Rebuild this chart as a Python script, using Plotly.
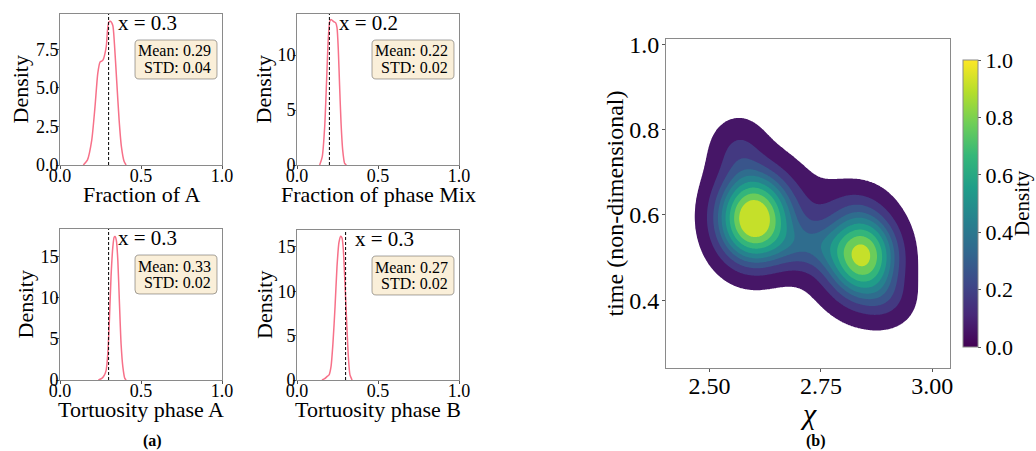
import numpy as np
import plotly.graph_objects as go
import plotly.colors as pc

W, H = 1036, 451
FONT = "Liberation Serif"

# ---------------- 1D KDE panels ----------------
fracA_x = [0.144, 0.169, 0.196, 0.216, 0.233, 0.247, 0.264, 0.285, 0.293, 0.301, 0.311, 0.326, 0.336, 0.351, 0.365, 0.379, 0.396, 0.408]
fracA_y = [0.0, 0.32, 1.62, 3.77, 5.93, 6.68, 6.79, 7.65, 8.73, 9.27, 9.33, 9.05, 7.87, 5.28, 2.91, 1.19, 0.22, 0.0]

fracMix_x = [0.140, 0.156, 0.171, 0.183, 0.193, 0.202, 0.210, 0.226, 0.239, 0.247, 0.255, 0.263, 0.272, 0.282, 0.294, 0.305]
fracMix_y = [0.0, 0.76, 3.5, 7.8, 11.5, 13.06, 13.24, 13.06, 12.94, 12.5, 10.5, 7.2, 3.8, 1.38, 0.15, 0.0]

tortA_x = [0.237, 0.258, 0.274, 0.285, 0.295, 0.305, 0.315, 0.326, 0.334, 0.340, 0.348, 0.357, 0.367, 0.377, 0.388, 0.400, 0.408]
tortA_y = [0.0, 0.2, 0.6, 1.2, 3.2, 7.3, 12.5, 16.1, 17.3, 17.4, 16.9, 14.5, 9.3, 4.4, 1.6, 0.2, 0.0]

tortB_x = [0.154, 0.171, 0.185, 0.198, 0.210, 0.222, 0.235, 0.247, 0.259, 0.270, 0.278, 0.286, 0.296, 0.307, 0.317, 0.327, 0.340]
tortB_y = [0.0, 0.15, 0.38, 0.57, 1.5, 4.15, 8.3, 12.8, 15.5, 16.2, 16.0, 14.7, 10.9, 6.4, 2.64, 0.57, 0.0]

panel_titles = ["Fraction of A", "Fraction of phase Mix", "Tortuosity phase A", "Tortuosity phase B"]
ref_x = [0.3, 0.2, 0.3, 0.3]
means = [0.29, 0.22, 0.33, 0.27]
stds = [0.04, 0.02, 0.02, 0.02]
y_max = [9.8, 13.75, 18.3, 16.9]
ytick_vals = [[0, 2.5, 5, 7.5], [0, 5, 10], [0, 5, 10, 15], [0, 5, 10, 15]]
ytick_text = [["0.0", "2.5", "5.0", "7.5"], ["0", "5", "10"], ["0", "5", "10", "15"], ["0", "5", "10", "15"]]
xtick_vals = [0, 0.5, 1.0]
xtick_text = ["0.0", "0.5", "1.0"]

# ---------------- 2D KDE (panel b): blob components ----------------
blob_chi = [2.597, 2.845, 2.730, 2.720, 2.565, 2.900, 2.820]
blob_time = [0.590, 0.505, 0.560, 0.525, 0.755, 0.400, 0.630]
blob_sx = [0.055, 0.052, 0.120, 0.060, 0.040, 0.040, 0.050]
blob_sy = [0.070, 0.068, 0.120, 0.040, 0.050, 0.040, 0.040]
blob_rho = [0.0, 0.0, -0.65, 0.0, 0.0, 0.0, 0.0]
blob_w = [1.0, 0.85, 0.14, 0.18, 0.14, 0.10, 0.07]
iso_props = list(np.linspace(0.05, 1.0, 10))   # seaborn-style iso-proportion levels

cbar_vals = [0.0, 0.2, 0.4, 0.6, 0.8, 1.0]
cbar_text = ["0.0", "0.2", "0.4", "0.6", "0.8", "1.0"]
chi_ticks = [2.50, 2.75, 3.00]
chi_text = ["2.50", "2.75", "3.00"]
time_ticks = [0.4, 0.6, 0.8, 1.0]
time_text = ["0.4", "0.6", "0.8", "1.0"]

# ---------------- layout geometry (pixels) ----------------
def px(x):
    return x / W

def py(y):
    return 1 - y / H

panel_boxes = [(60, 14, 222, 165), (297, 14, 459, 165), (60, 229, 222, 380), (297, 230, 459, 380)]
right_box = (666, 39, 950, 368)

fig = go.Figure()
curves = [(fracA_x, fracA_y), (fracMix_x, fracMix_y), (tortA_x, tortA_y), (tortB_x, tortB_y)]
PINK = "#f77189"
GRAY = "#8a8a8a"
layout_axes = {}
shapes = []
annotations = []

def rrect(x0, y0, x1, y1, r):
    def P(x, y):
        return f"{px(x):.5f},{py(y):.5f}"
    return (f"M {P(x0+r, y0)} L {P(x1-r, y0)} Q {P(x1, y0)} {P(x1, y0+r)} "
            f"L {P(x1, y1-r)} Q {P(x1, y1)} {P(x1-r, y1)} L {P(x0+r, y1)} "
            f"Q {P(x0, y1)} {P(x0, y1-r)} L {P(x0, y0+r)} Q {P(x0, y0)} {P(x0+r, y0)} Z")

def note(x, y, text, size, angle=0, xanchor="center"):
    return dict(xref="paper", yref="paper", x=px(x), y=py(y), xanchor=xanchor, yanchor="middle",
                text=text, textangle=angle, showarrow=False, font=dict(family=FONT, size=size, color="black"))

ytitle_x = [20, 263, 25, 264]
for i, (box, (cx, cy)) in enumerate(zip(panel_boxes, curves)):
    n = i + 1
    xa = "x" if n == 1 else f"x{n}"
    ya = "y" if n == 1 else f"y{n}"
    l, t, r, b = box
    fig.add_trace(go.Scatter(x=cx, y=cy, mode="lines", line=dict(color=PINK, width=1.5, shape="spline", smoothing=0.6),
                             xaxis=xa, yaxis=ya, showlegend=False, hoverinfo="skip"))
    common = dict(showline=True, mirror=True, linecolor=GRAY, linewidth=1, showgrid=False, zeroline=False,
                  automargin=False, ticks="outside", ticklen=3, tickcolor="#555",
                  tickfont=dict(family=FONT, size=18, color="black"))
    layout_axes[f"xaxis{n if n > 1 else ''}"] = dict(domain=[px(l), px(r)], range=[0, 1], anchor=ya,
                                                   tickvals=xtick_vals, ticktext=xtick_text,
                                                   ticklabelstandoff=-9, **common)
    layout_axes[f"yaxis{n if n > 1 else ''}"] = dict(domain=[py(b), py(t)], range=[0, y_max[i]], anchor=xa,
                                                   tickvals=ytick_vals[i], ticktext=ytick_text[i],
                                                   ticklabelstandoff=-6, **common)
    shapes.append(dict(type="line", xref=xa, yref=f"{ya} domain", x0=ref_x[i], x1=ref_x[i], y0=0, y1=1,
                       line=dict(color="black", width=1, dash="3px,2px")))
    annotations.append(dict(xref=xa, yref=f"{ya} domain", x=ref_x[i] + 0.045, y=0.94, xanchor="left", yanchor="middle",
                            text=f"x = {ref_x[i]}", showarrow=False, font=dict(family=FONT, size=21, color="black")))
    # stats box
    shapes.append(dict(type="path", xref="paper", yref="paper", path=rrect(l + 75, t + 26, l + 157, t + 65, 4),
                       fillcolor="#faefd9", line=dict(color="rgba(0,0,0,0.35)", width=1), layer="above"))
    annotations.append(note(l + 153, t + 37, f"Mean: {means[i]:.2f}", 16, xanchor="right"))
    annotations.append(note(l + 153, t + 53, f"STD: {stds[i]:.2f}", 16, xanchor="right"))
    # axis titles
    annotations.append(note((l + r) / 2, b + 29, panel_titles[i], 22))
    annotations.append(note(ytitle_x[i], (t + b) / 2, "Density", 22, angle=-90))

# ---------------- 2D density ----------------
chi_g = np.linspace(2.40, 3.04, 321)
time_g = np.linspace(0.24, 1.012, 321)
CX, TY = np.meshgrid(chi_g, time_g)
Z = np.zeros_like(CX)
for mx, my, sx, sy, rho, w in zip(blob_chi, blob_time, blob_sx, blob_sy, blob_rho, blob_w):
    dx = (CX - mx) / sx
    dy = (TY - my) / sy
    q = (dx * dx - 2 * rho * dx * dy + dy * dy) / (1 - rho * rho)
    Z += w * np.exp(-0.5 * q)
Z /= Z.max()

vals = np.sort(Z.ravel())[::-1]
cum = np.cumsum(vals) / vals.sum()
levels = [float(vals[min(np.searchsorted(cum, 1 - p), len(vals) - 1)]) for p in iso_props]
levels = sorted(levels)
nlev = len(levels)
Zi = np.interp(Z, [0.0] + levels, list(range(-1, nlev)))

viridis = pc.sequential.Viridis
band_pos = [((levels[k - 1] + levels[k]) / 2 - levels[0]) / (levels[-1] - levels[0]) for k in range(1, nlev)]
band_cols = pc.sample_colorscale(viridis, band_pos)
nb = nlev - 1
cscale = [[0.0, "white"]] + [[k / nb, c] for k, c in enumerate(band_cols, start=1)]

fig.add_trace(go.Contour(x=chi_g, y=time_g, z=Zi, xaxis="x5", yaxis="y5",
                         contours=dict(start=0, end=nlev - 2, size=1, coloring="fill", showlines=False),
                         colorscale=cscale, showscale=False, line=dict(width=0), hoverinfo="skip"))

cbar = dict(x=px(963), xanchor="left", y=py(60), yanchor="top",
            lenmode="pixels", len=287, thicknessmode="pixels", thickness=15,
            xpad=0, ypad=0, outlinewidth=1, outlinecolor=GRAY,
            ticks="outside", ticklen=3, tickcolor="#555",
            tickvals=cbar_vals, ticktext=cbar_text,
            tickfont=dict(family=FONT, size=22, color="black"))
fig.add_trace(go.Scatter(x=[None], y=[None], mode="markers", xaxis="x5", yaxis="y5", showlegend=False,
                         marker=dict(color=[0.5], cmin=0, cmax=1, colorscale="Viridis", showscale=True, colorbar=cbar)))

l, t, r, b = right_box
common5 = dict(showline=True, mirror=True, linecolor=GRAY, linewidth=1, showgrid=False, zeroline=False,
               automargin=False, ticks="outside", ticklen=3, tickcolor="#555",
               tickfont=dict(family=FONT, size=24, color="black"))
layout_axes["xaxis5"] = dict(domain=[px(l), px(r)], range=[2.402, 3.04], anchor="y5",
                             tickvals=chi_ticks, ticktext=chi_text, ticklabelstandoff=-7, **common5)
layout_axes["yaxis5"] = dict(domain=[py(b), py(t)], range=[0.241, 1.012], anchor="x5",
                             tickvals=time_ticks, ticktext=time_text, ticklabelstandoff=-2, **common5)
annotations.append(note(615, (t + b) / 2, "time (non-dimensional)", 24, angle=-90))
annotations.append(note(808, 413, "<i>χ</i>", 30))
annotations.append(note(1022, 203, "Density", 21, angle=-90))
annotations.append(note(152, 441, "<b>(a)</b>", 16))
annotations.append(note(816, 441, "<b>(b)</b>", 16))

fig.update_layout(width=W, height=H, margin=dict(l=0, r=0, t=0, b=0, pad=0, autoexpand=False),
                  paper_bgcolor="white", plot_bgcolor="white",
                  showlegend=False, shapes=shapes, annotations=annotations, **layout_axes)
fig.write_html("out.html")
